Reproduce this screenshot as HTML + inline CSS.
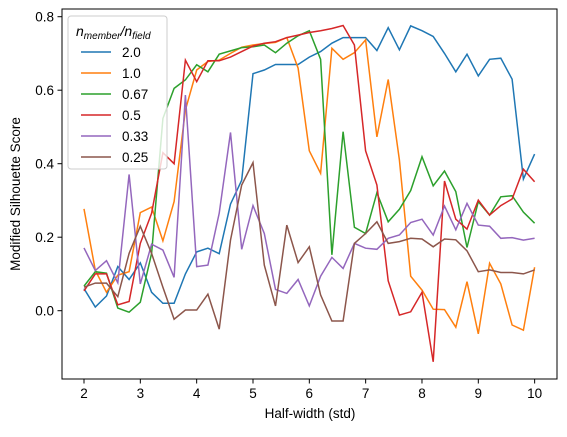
<!DOCTYPE html>
<html><head><meta charset="utf-8"><style>
body{margin:0;background:#fff}
text{font-family:"Liberation Sans",sans-serif;fill:#000}
</style></head><body>
<svg id="chart" width="567" height="432" viewBox="0 0 567 432" xmlns="http://www.w3.org/2000/svg">
<g id="lines"></g>
<rect x="62" y="9" width="495" height="370" fill="none" stroke="#000" stroke-width="1"/>
<g id="axes"></g>
<text x="310" y="418" font-size="13.5" text-anchor="middle">Half-width (std)</text>
<text transform="translate(20,194) rotate(-90)" font-size="13.5" text-anchor="middle">Modified Silhouette Score</text>
<g id="legend">
<rect x="68" y="16" width="99" height="153" rx="3" fill="#fff" fill-opacity="0.8" stroke="#ccc"/>
<text x="76" y="36" font-size="14" font-style="italic">n<tspan font-size="10" dy="3">member</tspan><tspan dy="-3">/n</tspan><tspan font-size="10" dy="3">field</tspan></text>
</g>
</svg>
<script>
const xs = [];
for (let i = 0; i <= 40; i++) xs.push(2 + i * 0.2);
const labels = ["2.0","1.0","0.67","0.5","0.33","0.25"];
const colors = ["#1f77b4","#ff7f0e","#2ca02c","#d62728","#9467bd","#8c564b"];
const s20 = [0.06,0.01,0.04,0.12,0.085,0.13,0.05,0.02,0.02,0.10,0.16,0.17,0.155,0.29,0.355,0.645,0.655,0.67,0.67,0.67,0.69,0.705,0.728,0.743,0.743,0.743,0.708,0.77,0.71,0.775,0.762,0.746,0.70,0.65,0.698,0.639,0.684,0.687,0.63,0.358,0.426];
const s10 = [0.277,0.11,0.05,0.097,0.106,0.267,0.282,0.19,0.297,0.546,0.655,0.678,0.682,0.70,0.717,0.723,0.727,0.73,0.743,0.66,0.435,0.374,0.714,0.684,0.702,0.737,0.473,0.629,0.41,0.094,0.056,0.004,0.003,-0.045,0.079,-0.063,0.129,0.073,-0.039,-0.053,0.118];
const s067 = [0.067,0.106,0.102,0.007,-0.004,0.023,0.156,0.523,0.605,0.628,0.669,0.65,0.698,0.707,0.716,0.718,0.723,0.702,0.728,0.748,0.762,0.684,0.152,0.487,0.227,0.21,0.321,0.242,0.276,0.327,0.419,0.34,0.38,0.324,0.172,0.297,0.26,0.31,0.313,0.268,0.238];
const s05 = [0.054,0.1,0.1,0.016,0.025,0.183,0.265,0.43,0.40,0.682,0.623,0.68,0.68,0.69,0.705,0.72,0.728,0.732,0.743,0.75,0.757,0.762,0.768,0.776,0.723,0.435,0.342,0.081,-0.012,-0.003,0.05,-0.139,0.353,0.249,0.222,0.301,0.26,0.286,0.304,0.385,0.351];
const s033 = [0.171,0.109,0.136,0.076,0.371,0.073,0.181,0.165,0.091,0.587,0.12,0.124,0.265,0.485,0.167,0.286,0.21,0.058,0.047,0.085,0.013,0.094,0.145,0.115,0.183,0.17,0.167,0.197,0.206,0.24,0.249,0.206,0.285,0.22,0.292,0.233,0.23,0.197,0.199,0.192,0.197];
const s025 = [0.064,0.075,0.075,0.038,0.156,0.23,0.156,0.064,-0.023,0.002,0.002,0.045,-0.05,0.192,0.342,0.403,0.124,0.013,0.233,0.131,0.174,0.043,-0.028,-0.028,0.183,0.21,0.242,0.183,0.188,0.197,0.195,0.174,0.195,0.193,0.163,0.106,0.111,0.104,0.104,0.1,0.111];
const xTicks = [2,3,4,5,6,7,8,9,10];
const yTicks = [0,0.2,0.4,0.6,0.8];
const yTickLabels = ["0.0","0.2","0.4","0.6","0.8"];

const X = v => 84 + (v - 2) * 56.33;
const Y = v => 310.7 - v * 367.5;
const NS = "http://www.w3.org/2000/svg";
const series = [s20, s10, s067, s05, s033, s025];
const lines = document.getElementById('lines');
series.forEach((s, k) => {
  const p = document.createElementNS(NS, 'polyline');
  
  
  p.setAttribute('points', s.map((v, i) => X(xs[i]).toFixed(1) + ',' + Y(v).toFixed(1)).join(' '));
  p.setAttribute('fill', 'none');
  p.setAttribute('stroke', colors[k]);
  p.setAttribute('stroke-width', '1.5');
  lines.appendChild(p);
});
const axes = document.getElementById('axes');
xTicks.forEach(t => {
  const l = document.createElementNS(NS, 'line');
  
  
  l.setAttribute('x1', X(t)); l.setAttribute('x2', X(t));
  l.setAttribute('y1', 379); l.setAttribute('y2', 383.5);
  l.setAttribute('stroke', '#000');
  axes.appendChild(l);
  const tx = document.createElementNS(NS, 'text');
  
  
  tx.setAttribute('x', X(t)); tx.setAttribute('y', 398);
  tx.setAttribute('font-size', '13.5');
  tx.setAttribute('text-anchor', 'middle');
  tx.textContent = String(t);
  axes.appendChild(tx);
});
yTicks.forEach((t, i) => {
  const l = document.createElementNS(NS, 'line');
  
  
  l.setAttribute('x1', 57.5); l.setAttribute('x2', 62);
  l.setAttribute('y1', Y(t)); l.setAttribute('y2', Y(t));
  l.setAttribute('stroke', '#000');
  axes.appendChild(l);
  const tx = document.createElementNS(NS, 'text');
  
  
  tx.setAttribute('x', 54); tx.setAttribute('y', Y(t) + 5);
  tx.setAttribute('font-size', '13.5');
  tx.setAttribute('text-anchor', 'end');
  tx.textContent = yTickLabels[i];
  axes.appendChild(tx);
});
const legend = document.getElementById('legend');
labels.forEach((lab, k) => {
  const yy = 52 + k * 21;
  const l = document.createElementNS(NS, 'line');
  
  
  l.setAttribute('x1', 81); l.setAttribute('x2', 111);
  l.setAttribute('y1', yy); l.setAttribute('y2', yy);
  l.setAttribute('stroke', colors[k]); l.setAttribute('stroke-width', '1.5');
  legend.appendChild(l);
  const tx = document.createElementNS(NS, 'text');
  
  
  tx.setAttribute('x', 122); tx.setAttribute('y', yy + 5);
  tx.setAttribute('font-size', '13.5');
  tx.textContent = lab;
  legend.appendChild(tx);
});
</script>
</body></html>
